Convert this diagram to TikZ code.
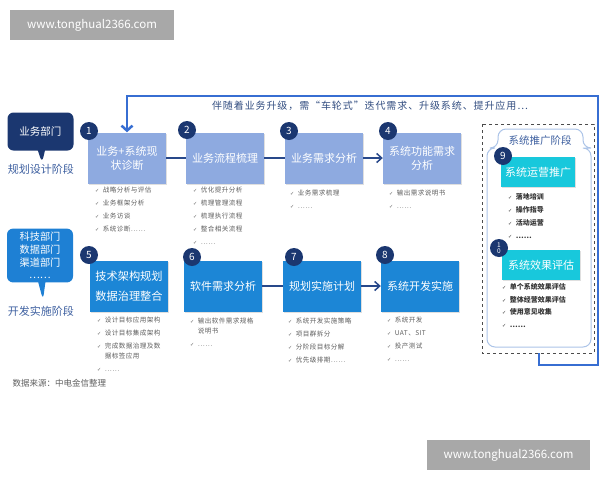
\documentclass[tikz,border=0pt]{standalone}
\usepackage{fontspec}
\setmainfont{Noto Sans CJK SC}
\newfontfamily\symfont{DejaVu Sans}
\usetikzlibrary{shapes.callouts, shadows, arrows.meta}
\definecolor{qnavy}{RGB}{27,55,112}
\definecolor{qlight}{RGB}{142,170,224}
\definecolor{qblue}{RGB}{28,134,214}
\definecolor{qcyan}{RGB}{24,200,220}
\definecolor{qcall}{RGB}{30,128,212}
\definecolor{qline}{RGB}{40,72,138}
\definecolor{qloop}{RGB}{55,110,210}
\definecolor{qgray}{RGB}{95,95,95}
\definecolor{qstage}{RGB}{62,96,160}
\definecolor{qpanel}{RGB}{172,196,232}
\newcommand{\ck}{{\symfont\fontsize{5}{5}\selectfont ✓}\hspace{3.5pt}}

\begin{document}
\begin{tikzpicture}[x=1pt, y=-1pt,
  box/.style={minimum width=78pt, minimum height=51pt, inner sep=2pt, align=center,
    text=white, font=\fontsize{11}{14}\selectfont,
    drop shadow={shadow xshift=1pt, shadow yshift=-1pt, opacity=0.25}},
  lbox/.style={box, fill=qlight},
  dbox/.style={box, fill=qblue},
  cbox/.style={box, fill=qcyan, minimum height=30pt},
  num/.style={circle, fill=qnavy, text=white, minimum size=18pt, inner sep=0pt,
    font=\fontsize{10}{10}\selectfont},
  list/.style={anchor=north west, inner sep=0pt, align=left, text=qgray,
    font=\fontsize{6.6}{13}\selectfont\addfontfeature{LetterSpace=6}},
  blist/.style={list, text=black!80, font=\fontsize{7}{12.8}\selectfont\bfseries},
  link/.style={draw=qline, line width=1.5pt},
  callout/.style={rectangle callout, rounded corners=6pt, text=white, align=center,
    minimum width=66pt},
  stage/.style={text=qstage, font=\fontsize{11}{11}\selectfont},
  wm/.style={fill=black!34, text=white, minimum height=30pt, font=\fontsize{11.5}{12}\selectfont},
]
\useasboundingbox (0,0) rectangle (600,480);

%watermarks:
\node[wm, minimum width=164pt] (wmtop) at (92,25) {www.tonghual2366.com};
\node[wm, minimum width=163pt] (wmbot) at (508.5,455) {www.tonghual2366.com};

%departments:
\node[callout, fill=qnavy, minimum height=38pt, callout absolute pointer={(42,163)},
  font=\fontsize{10.5}{13}\selectfont] (dept1) at (40.5,131.5) {业务部门};
\node[stage] (stage1) at (41,169) {规划设计阶段};
\node[callout, fill=qcall, minimum height=53pt, callout absolute pointer={(43,300)},
  font=\fontsize{10.2}{12.8}\selectfont] (dept2) at (40,255.5) {科技部门\\数据部门\\渠道部门\\……};
\node[stage] (stage2) at (41,311) {开发实施阶段};

%loop back:
\node[text=qstage!80!black, font=\fontsize{10}{12}\selectfont\addfontfeature{LetterSpace=9}] (note) at (370,106)
  {伴随着业务升级，需“车轮式”迭代需求、升级系统、提升应用…};

%promotion stage:
\draw[dashed, black!70, line width=0.8pt] (482,124) rectangle (594,353);
\draw[draw=qpanel, fill=white, line width=1pt, rounded corners=8pt]
  (487,148) -- (487,347) -- (591,347) -- (591,148) -- (583,148) -- (583,129) -- (498,129) -- (498,148) -- cycle;
\node[text=qstage, font=\fontsize{10.5}{11}\selectfont] (promo) at (540,141) {系统推广阶段};

%row 1:
\node[lbox] (b1) at (127,158) {业务+系统现\\状诊断};
\node[lbox] (b2) at (225,158) {业务流程梳理};
\node[lbox] (b3) at (324,158) {业务需求分析};
\node[lbox] (b4) at (422,158) {系统功能需求\\分析};
\draw[link] (b1) -- (b2);
\draw[link] (b2) -- (b3);
\draw[link, -{Straight Barb[length=5pt, width=9pt]}] (b3) -- (b4);

%row 2:
\node[dbox, font=\fontsize{11.2}{20}\selectfont] (b5) at (129,286) {技术架构规划\\数据治理整合};
\node[dbox] (b6) at (223,286) {软件需求分析};
\node[dbox] (b7) at (322,286) {规划实施计划};
\node[dbox] (b8) at (420,286) {系统开发实施};
\draw[link] (b6) -- (b7);
\draw[link, -{Straight Barb[length=5pt, width=9pt]}] (b7) -- (b8);

%promotion boxes
\node[cbox, minimum width=74pt] (b9) at (538,172) {系统运营推广};
\node[cbox, minimum width=78pt] (b10) at (541,265) {系统效果评估};

%numbers
\node[num] (n1) at (89,131) {1};
\node[num] (n2) at (187,130) {2};
\node[num] (n3) at (289,131) {3};
\node[num] (n4) at (388,131) {4};
\node[num] (n5) at (89,255) {5};
\node[num] (n6) at (192,257) {6};
\node[num] (n7) at (294,257) {7};
\node[num] (n8) at (385,255) {8};
\node[num] (n9) at (503,156) {9};
\node[num, font=\fontsize{6.5}{6.5}\selectfont, align=center] (n10) at (499,248) {1\\0};

%lists
\node[list] (l1) at (95,187) {\ck 战略分析与评估\\\ck 业务框架分析\\\ck 业务访谈\\\ck 系统诊断……};
\node[list] (l2) at (193,187) {\ck 优化提升分析\\\ck 梳理管理流程\\\ck 梳理执行流程\\\ck 整合相关流程\\\ck ……};
\node[list] (l3) at (290,189.5) {\ck 业务需求梳理\\\ck ……};
\node[list] (l4) at (389,189.5) {\ck 输出需求说明书\\\ck ……};
\node[list] (l5) at (97,317) {\ck 设计目标应用架构\\\ck 设计目标集成架构\\\ck 完成数据治理及数\\[-3.5pt]\phantom{\ck}据标签应用\\\ck ……};
\node[list] (l6) at (190,317.5) {\ck 输出软件需求规格\\[-3pt]\phantom{\ck}说明书\\\ck ……};
\node[list] (l7) at (288,317.5) {\ck 系统开发实施策略\\\ck 项目群拆分\\\ck 分阶段目标分解\\\ck 优先级排期……};
\node[list] (l8) at (387,317) {\ck 系统开发\\\ck UAT、SIT\\\ck 投产测试\\\ck ……};
\node[blist] (l9) at (508,193.5) {\ck 落地培训\\\ck 操作指导\\\ck 活动运营\\\ck ……};
\node[blist] (l10) at (502,283) {\ck 单个系统效果评估\\\ck 整体经营效果评估\\\ck 使用意见收集\\\ck ……};

%loop line
\coordinate (la) at (539,365);
\coordinate (lb) at (598,96);
\draw[draw=qloop, line width=2.5pt, -{Straight Barb[length=5pt, width=11pt]}]
  (539,353) -- (la) -| (lb) -| (b1.north);

\node[text=qgray, font=\fontsize{8.5}{10}\selectfont, anchor=west] (src) at (9,383) {数据来源：中电金信整理};
\end{tikzpicture}
\end{document}
